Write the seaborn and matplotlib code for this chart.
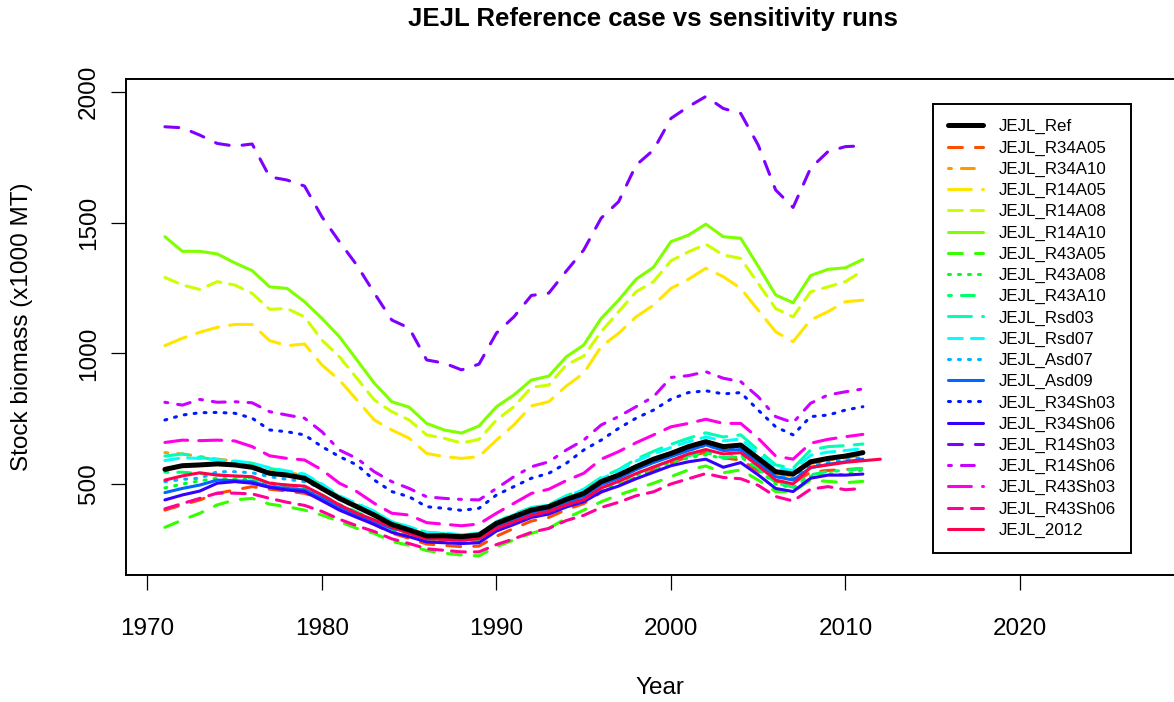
import colorsys
import matplotlib
matplotlib.use("Agg")
from matplotlib import pyplot as plt
import seaborn as sns

years = list(range(1971, 2012))
years_2012 = list(range(1971, 2013))

ref = [556, 570, 573, 577, 573, 564, 541, 534, 522, 483, 445, 413, 381, 345, 324, 301, 302, 298, 305, 349,
       375, 400, 413, 441, 464, 509, 534, 566, 595, 617, 643, 662, 643, 649, 598, 547, 538, 585, 598, 607, 620]
r34a05 = [400, 420, 439, 464, 477, 490, 480, 473, 464, 445, 405, 375, 345, 312, 292, 270, 265, 260, 262, 300,
          330, 358, 372, 402, 425, 468, 495, 525, 555, 580, 605, 622, 600, 592, 550, 510, 503, 545, 552, 555, 560]
r34a10 = [620, 615, 605, 595, 588, 579, 554, 543, 534, 496, 450, 418, 388, 350, 330, 305, 305, 300, 305, 350,
          378, 403, 416, 445, 468, 512, 536, 568, 595, 615, 638, 655, 640, 645, 595, 540, 530, 578, 592, 600, 612]
r14a05 = [1030, 1058, 1081, 1100, 1111, 1111, 1049, 1030, 1036, 956, 898, 822, 745, 707, 675, 617, 605, 598, 605, 668,
          726, 799, 815, 875, 924, 1026, 1077, 1140, 1185, 1249, 1284, 1326, 1294, 1249, 1166, 1083, 1045, 1128, 1160, 1198, 1204]
r14a08 = [1291, 1262, 1245, 1275, 1262, 1230, 1169, 1172, 1140, 1051, 987, 905, 822, 777, 745, 688, 675, 657, 671, 745,
          796, 870, 879, 956, 990, 1083, 1160, 1236, 1275, 1355, 1389, 1418, 1377, 1364, 1268, 1172, 1140, 1236, 1255, 1275, 1317]
r14a10 = [1447, 1391, 1391, 1381, 1347, 1317, 1255, 1249, 1198, 1134, 1064, 975, 886, 815, 794, 732, 707, 695, 722, 796,
          841, 898, 913, 987, 1032, 1134, 1204, 1284, 1330, 1428, 1453, 1495, 1447, 1441, 1334, 1224, 1194, 1298, 1322, 1328, 1360]
r43a05 = [334, 362, 388, 420, 439, 445, 423, 413, 400, 381, 356, 330, 311, 280, 265, 245, 235, 228, 225, 260,
          286, 311, 330, 369, 400, 432, 458, 480, 503, 528, 554, 569, 543, 554, 515, 471, 471, 515, 510, 505, 510]
r43a08 = [485, 500, 512, 522, 520, 516, 500, 492, 482, 455, 418, 390, 360, 325, 305, 283, 280, 275, 278, 320,
          348, 372, 385, 412, 435, 478, 502, 532, 558, 582, 600, 612, 598, 605, 555, 500, 485, 530, 540, 535, 555]
r43a10 = [545, 545, 540, 535, 530, 522, 505, 496, 486, 458, 422, 393, 362, 328, 308, 286, 283, 278, 282, 325,
          352, 378, 390, 418, 442, 485, 510, 540, 565, 590, 608, 622, 600, 610, 560, 505, 488, 535, 548, 552, 560]
rsd03 = [607, 615, 602, 592, 585, 579, 560, 547, 534, 496, 451, 423, 394, 355, 335, 315, 310, 305, 310, 355,
         385, 410, 420, 455, 480, 525, 555, 595, 625, 652, 675, 696, 680, 688, 630, 573, 560, 630, 643, 647, 653]
rsd07 = [590, 600, 598, 592, 588, 580, 562, 550, 538, 500, 455, 425, 396, 355, 336, 314, 312, 306, 310, 355,
         382, 408, 420, 452, 478, 520, 550, 588, 615, 640, 662, 680, 665, 672, 615, 560, 552, 610, 622, 628, 635]
asd07 = [509, 518, 522, 547, 547, 543, 528, 518, 509, 483, 440, 410, 380, 343, 325, 302, 300, 296, 300, 340,
         368, 393, 405, 432, 455, 500, 525, 557, 585, 608, 630, 648, 632, 636, 585, 532, 522, 570, 582, 592, 602]
asd09 = [467, 483, 496, 515, 513, 509, 490, 483, 477, 445, 411, 381, 356, 330, 318, 295, 292, 288, 292, 335,
         362, 388, 400, 428, 452, 498, 522, 555, 582, 605, 628, 650, 628, 632, 580, 528, 515, 562, 575, 585, 595]
r34sh03 = [745, 764, 773, 774, 771, 752, 707, 700, 688, 643, 605, 573, 515, 471, 451, 413, 407, 399, 407, 458,
           490, 522, 541, 579, 630, 668, 713, 752, 783, 825, 850, 857, 845, 850, 783, 719, 688, 758, 764, 783, 796]
r34sh06 = [439, 458, 473, 503, 509, 503, 487, 477, 471, 436, 400, 372, 345, 315, 298, 278, 275, 272, 275, 320,
           345, 372, 385, 412, 432, 470, 492, 520, 545, 570, 585, 595, 564, 582, 535, 483, 471, 522, 534, 534, 538]
r14sh03 = [1868, 1864, 1836, 1804, 1794, 1802, 1676, 1664, 1641, 1523, 1428, 1338, 1231, 1128, 1097, 975, 963, 937, 959, 1078,
           1140, 1222, 1231, 1315, 1396, 1518, 1581, 1721, 1779, 1900, 1945, 1984, 1938, 1919, 1798, 1626, 1559, 1709, 1773, 1792, 1795]
r14sh06 = [813, 802, 824, 813, 815, 811, 777, 764, 752, 700, 630, 598, 547, 509, 483, 451, 445, 441, 439, 483,
           528, 566, 585, 630, 668, 726, 758, 796, 834, 908, 915, 930, 905, 892, 834, 758, 735, 809, 841, 853, 864]
r43sh03 = [659, 668, 666, 668, 665, 643, 608, 598, 592, 554, 503, 471, 426, 388, 381, 352, 346, 340, 347, 388,
           426, 464, 480, 513, 541, 595, 624, 658, 688, 719, 732, 748, 732, 732, 675, 607, 595, 656, 671, 681, 690]
r43sh06 = [405, 425, 445, 465, 465, 462, 445, 430, 418, 395, 365, 340, 318, 290, 272, 252, 246, 240, 240, 268,
           290, 315, 330, 360, 380, 410, 430, 455, 470, 500, 520, 540, 525, 520, 495, 452, 435, 480, 490, 478, 483]
jejl_2012 = [515, 531, 543, 534, 531, 528, 503, 496, 492, 458, 420, 388, 362, 335, 310, 290, 288, 285, 290, 330,
             355, 380, 395, 420, 440, 485, 510, 540, 565, 590, 615, 632, 615, 620, 570, 515, 500, 564, 573, 583, 589, 595]

names = ["JEJL_Ref", "JEJL_R34A05", "JEJL_R34A10", "JEJL_R14A05", "JEJL_R14A08", "JEJL_R14A10",
         "JEJL_R43A05", "JEJL_R43A08", "JEJL_R43A10", "JEJL_Rsd03", "JEJL_Rsd07", "JEJL_Asd07",
         "JEJL_Asd09", "JEJL_R34Sh03", "JEJL_R34Sh06", "JEJL_R14Sh03", "JEJL_R14Sh06", "JEJL_R43Sh03",
         "JEJL_R43Sh06", "JEJL_2012"]
values = [ref, r34a05, r34a10, r14a05, r14a08, r14a10, r43a05, r43a08, r43a10, rsd03, rsd07, asd07,
          asd09, r34sh03, r34sh06, r14sh03, r14sh06, r43sh03, r43sh06, jejl_2012]
kinds = ["solid", "longshort", "twodash", "longdash", "dashed", "solid", "longshort", "dotted", "twodash",
         "longdash", "dashed", "dotted", "solid", "dotted", "solid", "longshort", "twodash", "longdash",
         "dashed", "solid"]

# dash patterns in points (round caps add the line width to each dash)
patterns = {
    "solid": "-",
    "longshort": (0, (10.0, 9.4)),
    "twodash": (0, (2.1, 7.2, 9.3, 7.2)),
    "longdash": (0, (16.5, 8.0)),
    "dashed": (0, (10.0, 6.5)),
    "dotted": (0, (1.4, 5.8)),
}

# R style rainbow(20), first colour replaced by black for the reference run
colors = ["black"] + [colorsys.hsv_to_rgb(i / 20, 1, 1) for i in range(1, 20)]

sns.set_style("ticks")
plt.rcParams["font.family"] = ["Liberation Sans", "DejaVu Sans"]
plt.rcParams["lines.scale_dashes"] = False
plt.rcParams["text.color"] = "black"

fig = plt.figure(figsize=(11.74, 7.02), dpi=100)
ax = fig.add_axes([126 / 1174, 127 / 702, 1048 / 1174, 496 / 702])

order = list(range(1, len(names))) + [0]
for i in order:
    x = years_2012 if names[i] == "JEJL_2012" else years
    sns.lineplot(x=x, y=values[i], ax=ax, color=colors[i], label=names[i],
                 lw=3.6 if i == 0 else 2.2, linestyle=patterns[kinds[i]],
                 dash_capstyle="round", solid_capstyle="round",
                 dash_joinstyle="round", solid_joinstyle="round",
                 errorbar=None, zorder=5 if i == 0 else 3)

ax.set_xlim(1968.77, 2028.83)
ax.set_ylim(151.5, 2050.9)
ax.set_xticks([1970, 1980, 1990, 2000, 2010, 2020])
ax.set_yticks([500, 1000, 1500, 2000])
ax.tick_params(axis="both", direction="out", length=10.8, width=0.9, labelsize=17.5, color="black",
               labelcolor="black", bottom=True, left=True, top=False, right=False)
ax.tick_params(axis="x", pad=20)
ax.tick_params(axis="y", pad=8, labelrotation=90)
for lab in ax.get_yticklabels():
    lab.set_va("center")
for side in ["left", "bottom", "top"]:
    ax.spines[side].set_visible(True)
    ax.spines[side].set_color("black")
    ax.spines[side].set_linewidth(1.4)
ax.spines["right"].set_visible(False)
ax.set_xlabel("")
ax.set_ylabel("")

fig.text(653 / 1174, 1 - 19 / 702, "JEJL Reference case vs sensitivity runs", ha="center", va="center",
         fontsize=18.5, fontweight="bold", color="black")
fig.text(660 / 1174, 1 - 688 / 702, "Year", ha="center", va="center", fontsize=17.5, color="black")
fig.text(22 / 1174, 1 - 327 / 702, "Stock biomass (x1000 MT)", ha="center", va="center",
         rotation=90, fontsize=17.5, color="black")

handles, labels = ax.get_legend_handles_labels()
lookup = dict(zip(labels, handles))
leg = ax.legend([lookup[n] for n in names], names, loc="upper left",
                bbox_to_anchor=(933 / 1174, 1 - 104 / 702), bbox_transform=fig.transFigure,
                borderaxespad=0, fontsize=12.2, handlelength=2.05, handletextpad=0.9,
                borderpad=0.9, labelspacing=0.36, fancybox=False, framealpha=1,
                edgecolor="black")
leg.get_frame().set_linewidth(1.4)
leg.set_zorder(10)
for t in leg.get_texts():
    t.set_color("black")

fig.savefig("out.png", dpi=100)
